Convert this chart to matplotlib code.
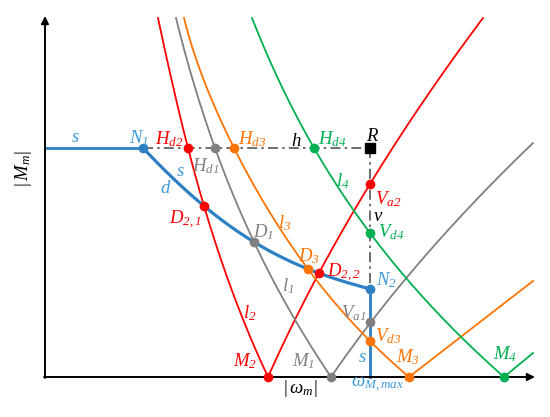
import matplotlib
matplotlib.use('Agg')
import matplotlib.pyplot as plt
import numpy as np

plt.rcParams['mathtext.fontset'] = 'custom'
plt.rcParams['mathtext.it'] = 'Liberation Serif:italic'
plt.rcParams['mathtext.rm'] = 'Liberation Serif:italic'
plt.rcParams['mathtext.bf'] = 'Liberation Serif:bold'
plt.rcParams['font.family'] = ['Liberation Serif', 'DejaVu Serif']

RED = '#FF0000'
GRAY = '#808080'
ORANGE = '#FF7300'
GREEN = '#00B050'
BLUE = '#2E80C4'
BLUE_T = '#3C9BDC'

# characteristic curves: points (y grows downward)
l2_left_x = [158, 188, 204, 268]
l2_left_y = [18, 148, 206, 377]
l2_right_x = [268, 319, 370, 483]
l2_right_y = [377, 273, 184, 18]

l1_left_x = [176, 215, 254, 331]
l1_left_y = [18, 148, 242, 377]
l1_right_x = [331, 371, 533]
l1_right_y = [377, 322, 143]

l3_left_x = [184, 234, 308, 370, 409]
l3_left_y = [18, 148, 269, 341, 377]
l3_right_x = [409, 533]
l3_right_y = [377, 281]

l4_left_x = [252, 314, 370, 504]
l4_left_y = [18, 148, 233, 377]
l4_right_x = [504, 533]
l4_right_y = [377, 353]

d_x = [143, 204, 254, 308, 370]
d_y = [148, 206, 242, 269, 289]

s_top_x = [45, 143]
s_top_y = [148, 148]
s_vert_x = [370, 370]
s_vert_y = [289, 377]

h_x = [143, 370]
h_y = [148, 148]
v_x = [370, 370]
v_y = [148, 289]

# marked points
pt_x = [143, 188, 215, 234, 314, 204, 254, 308, 319, 370, 370, 370, 370, 370, 268, 331, 409, 504]
pt_y = [148, 148, 148, 148, 148, 206, 242, 269, 273, 184, 233, 289, 322, 341, 377, 377, 377, 377]
pt_c = [BLUE, RED, GRAY, ORANGE, GREEN, RED, GRAY, ORANGE, RED, RED, GREEN, BLUE, GRAY, ORANGE,
        RED, GRAY, ORANGE, GREEN]

# labels
lab_txt = [r'$s$', r'$N_1$', r'$H_{d2}$', r'$H_{d3}$', r'$H_{d1}$', r'$s$', r'$d$', r'$D_{2,1}$',
           r'$h$', r'$H_{d4}$', r'$R$', r'$l_4$', r'$V_{a2}$', r'$v$', r'$V_{d4}$', r'$D_1$',
           r'$l_3$', r'$D_3$', r'$D_{2,2}$', r'$N_2$', r'$l_1$', r'$l_2$', r'$V_{a1}$',
           r'$V_{d3}$', r'$s$', r'$M_2$', r'$M_1$', r'$M_3$', r'$M_4$', r'$|\,\omega_m|$',
           r'$\omega_{M,max}$']
lab_x = [75, 139, 169, 252, 206, 180, 166, 185, 296, 332, 373, 343, 388, 378, 391, 263,
         285, 309, 344, 386, 288, 250, 354, 388, 362, 245, 303, 408, 505, 300, 378]
lab_y = [142, 143, 144, 144, 171, 176, 193, 224, 146, 144, 141, 186, 204, 221, 237, 237,
         228, 261, 277, 285, 291, 318, 318, 341, 362, 366, 366, 362, 359, 393, 387]
lab_c = [BLUE_T, BLUE_T, RED, ORANGE, GRAY, BLUE_T, BLUE_T, RED, 'black', GREEN, 'black',
         GREEN, RED, 'black', GREEN, GRAY, ORANGE, ORANGE, RED, BLUE_T, GRAY, RED, GRAY,
         ORANGE, BLUE_T, RED, GRAY, ORANGE, GREEN, 'black', BLUE_T]

fig = plt.figure(figsize=(5.5, 4.17), dpi=100)
ax = fig.add_axes([0, 0, 1, 1])
ax.set_xlim(0, 550)
ax.set_ylim(417, 0)
ax.axis('off')


def smooth_x_of_y(xs, ys):
    """Smooth curve passing exactly through the read points, x as function of y."""
    coef = np.polyfit(ys, xs, len(xs) - 1)
    yy = np.linspace(min(ys), max(ys), 300)
    return np.polyval(coef, yy), yy


def smooth_y_of_x(xs, ys):
    coef = np.polyfit(xs, ys, len(xs) - 1)
    xx = np.linspace(min(xs), max(xs), 300)
    return xx, np.polyval(coef, xx)


lw = 1.3
for xs, ys, c in [(l2_left_x, l2_left_y, RED), (l2_right_x, l2_right_y, RED),
                  (l1_left_x, l1_left_y, GRAY), (l1_right_x, l1_right_y, GRAY),
                  (l3_left_x, l3_left_y, ORANGE), (l3_right_x, l3_right_y, ORANGE),
                  (l4_left_x, l4_left_y, GREEN), (l4_right_x, l4_right_y, GREEN)]:
    cx, cy = smooth_x_of_y(xs, ys)
    ax.plot(cx, cy, color=c, lw=lw, zorder=2)

dd = (0, (6, 2.5, 1.5, 2.5))
ax.plot(h_x, h_y, color='#555555', lw=1.2, linestyle=dd, zorder=3)
ax.plot(v_x, v_y, color='#555555', lw=1.2, linestyle=dd, zorder=3)

bx, by = smooth_y_of_x(d_x, d_y)
ax.plot(bx, by, color=BLUE, lw=2.3, solid_capstyle='round', zorder=4)
ax.plot(s_top_x, s_top_y, color=BLUE, lw=2.0, zorder=4)
ax.plot(s_vert_x, s_vert_y, color=BLUE, lw=2.0, zorder=4)

# axes with arrows
ax.annotate('', xy=(45, 16), xytext=(45, 378),
            arrowprops=dict(arrowstyle='-|>', lw=1.4, color='black', mutation_scale=11,
                            shrinkA=0, shrinkB=0), zorder=5)
ax.annotate('', xy=(535, 377), xytext=(44, 377),
            arrowprops=dict(arrowstyle='-|>', lw=1.4, color='black', mutation_scale=11,
                            shrinkA=0, shrinkB=0), zorder=5)

for x, y, c in zip(pt_x, pt_y, pt_c):
    ax.plot(x, y, 'o', color=c, ms=7, mec='none', zorder=6)
ax.plot(370, 148, 's', color='black', ms=6.5, zorder=6)

for t, x, y, c in zip(lab_txt, lab_x, lab_y, lab_c):
    ax.text(x, y, t, color=c, fontsize=13.5, ha='center', va='baseline', zorder=7)

ax.text(23, 169, r'$|\,M_m|$', color='black', fontsize=13.5, ha='center', va='center',
        rotation=90, zorder=7)

fig.savefig('out.png', dpi=100)
